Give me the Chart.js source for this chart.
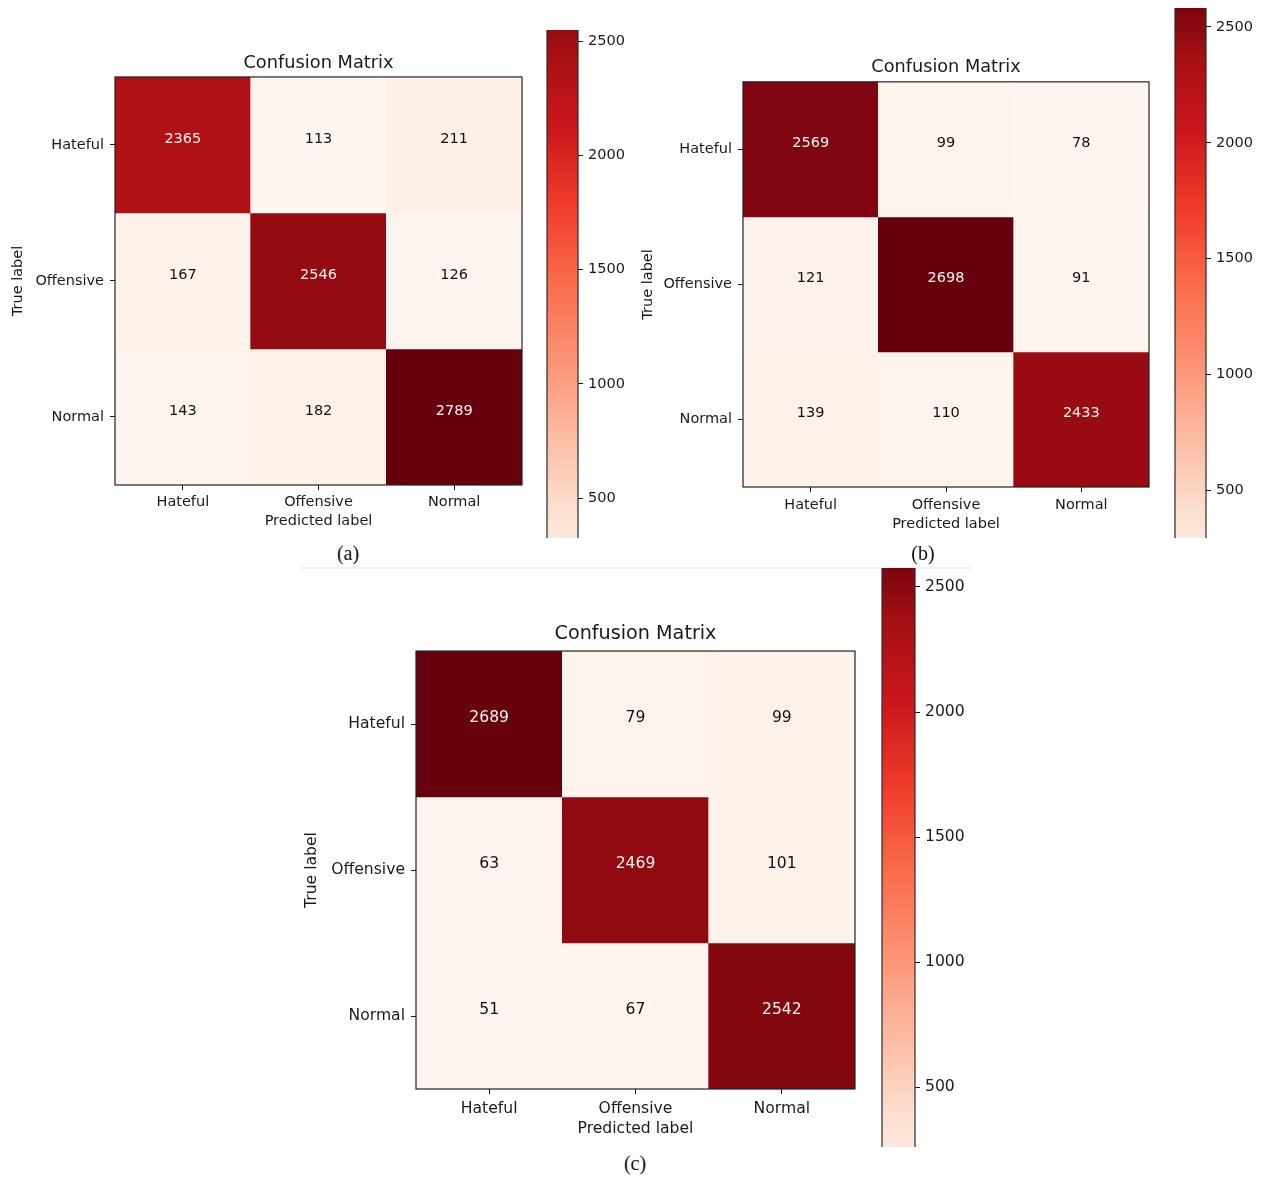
<!DOCTYPE html>
<html>
<head>
<meta charset="utf-8">
<script src="https://cdn.jsdelivr.net/npm/chart.js@4.4.1/dist/chart.umd.min.js"></script>
<style>
  html, body { margin: 0; padding: 0; background: #ffffff; }
  body { width: 1263px; height: 1178px; position: relative; overflow: hidden; }
  canvas { position: absolute; }
  .cap { position: absolute; font-family: "Liberation Serif", "Times New Roman", serif; font-size: 20px; color: #111; transform: translate(-50%, -50%); white-space: nowrap; }
  .rule { position: absolute; left: 301px; top: 567px; width: 670px; height: 2px; background: #f0f0f0; }
</style>
</head>
<body>
<canvas id="mA" width="530" height="500" style="left:0px;top:40px;width:530px;height:500px"></canvas>
<canvas id="cA" width="100" height="530" style="left:540px;top:20px;width:100px;height:530px"></canvas>
<canvas id="mB" width="528" height="500" style="left:630px;top:40px;width:528px;height:500px"></canvas>
<canvas id="cB" width="98" height="548" style="left:1165px;top:0px;width:98px;height:548px"></canvas>
<div class="rule"></div>
<canvas id="mC" width="565" height="545" style="left:300px;top:600px;width:565px;height:545px"></canvas>
<canvas id="cC" width="110" height="600" style="left:872px;top:560px;width:110px;height:600px"></canvas>
<div class="cap" style="left:348px;top:553px">(a)</div>
<div class="cap" style="left:923px;top:553px">(b)</div>
<div class="cap" style="left:635px;top:1163px">(c)</div>
<script>
// ---------------- DATA ----------------
const predictedLabels = ['Hateful', 'Offensive', 'Normal'];
const trueLabels = ['Hateful', 'Offensive', 'Normal'];
const matrixA = [[2365, 113, 211], [167, 2546, 126], [143, 182, 2789]];
const matrixB = [[2569, 99, 78], [121, 2698, 91], [139, 110, 2433]];
const matrixC = [[2689, 79, 99], [63, 2469, 101], [51, 67, 2542]];
const colorbarTicks = [500, 1000, 1500, 2000, 2500];
// visible (cropped) part of each colorbar, in data units
const colorbarViewA = [325, 2550];
const colorbarViewB = [293, 2582];
const colorbarViewC = [260, 2576];
const titleText = 'Confusion Matrix';
const xTitleText = 'Predicted label';
const yTitleText = 'True label';

// matplotlib "Reds" colormap anchors
const REDS = [
  [1.00, 0.96, 0.94], [0.99, 0.88, 0.82], [0.99, 0.73, 0.63],
  [0.99, 0.57, 0.45], [0.98, 0.42, 0.29], [0.94, 0.23, 0.17],
  [0.80, 0.09, 0.11], [0.65, 0.06, 0.08], [0.40, 0.00, 0.05]
];
function toRgb(c) {
  return 'rgb(' + c.map(v => Math.round(v * 255)).join(',') + ')';
}
function reds(t) {
  t = Math.max(0, Math.min(1, t));
  const p = t * (REDS.length - 1);
  const i = Math.min(REDS.length - 2, Math.floor(p));
  const f = p - i;
  const a = REDS[i], b = REDS[i + 1];
  return toRgb([0, 1, 2].map(k => a[k] + (b[k] - a[k]) * f));
}

const FONT = '"DejaVu Sans", "Liberation Sans", sans-serif';
const INK = '#1a1a1a';

const cellTextPlugin = {
  id: 'cellText',
  afterDatasetsDraw(chart, args, opts) {
    const m = opts.matrix;
    if (!m) return;
    const flat = m.flat();
    const vmin = Math.min(...flat), vmax = Math.max(...flat);
    const thresh = (vmin + vmax) / 2;
    const {ctx, scales} = chart;
    ctx.save();
    ctx.font = opts.fontSize + 'px ' + FONT;
    ctx.textAlign = 'center';
    ctx.textBaseline = 'middle';
    m.forEach((row, r) => {
      row.forEach((v, c) => {
        const x = scales.x.getPixelForValue(c);
        const y = scales.y.getPixelForValue(r + 0.5) + opts.dy;
        ctx.fillStyle = v > thresh ? '#fff5f0' : '#111111';
        ctx.fillText(String(v), x, y);
      });
    });
    // axes frame
    const a = chart.chartArea;
    ctx.strokeStyle = '#222';
    ctx.lineWidth = 1.2;
    ctx.strokeRect(a.left, a.top, a.right - a.left, a.bottom - a.top);
    ctx.restore();
  }
};

const sideBorderPlugin = {
  id: 'sideBorder',
  afterDatasetsDraw(chart) {
    const {ctx, chartArea: a} = chart;
    ctx.save();
    ctx.strokeStyle = '#2a2a2a';
    ctx.lineWidth = 1.2;
    ctx.beginPath();
    ctx.moveTo(a.left, a.top); ctx.lineTo(a.left, a.bottom);
    ctx.moveTo(a.right, a.top); ctx.lineTo(a.right, a.bottom);
    ctx.stroke();
    ctx.restore();
  }
};

function makeMatrix(id, m, g) {
  const flat = m.flat();
  const vmin = Math.min(...flat), vmax = Math.max(...flat);
  const datasets = m.map((row, r) => ({
    data: predictedLabels.map(() => [r, r + 1]),
    backgroundColor: row.map(v => reds((v - vmin) / (vmax - vmin))),
    borderWidth: 0,
    grouped: false,
    barPercentage: 1,
    categoryPercentage: 1
  }));
  new Chart(document.getElementById(id), {
    type: 'bar',
    data: { labels: predictedLabels, datasets },
    plugins: [cellTextPlugin],
    options: {
      responsive: false,
      animation: false,
      events: [],
      layout: { padding: { left: 0, right: g.padRight, top: 0, bottom: 0 } },
      plugins: {
        legend: { display: false },
        tooltip: { enabled: false },
        title: {
          display: true, text: titleText, fullSize: false, color: INK,
          font: { family: FONT, size: g.tfs, weight: 'normal', lineHeight: 1.2 },
          padding: { top: g.titlePadTop, bottom: g.titlePadBottom }
        },
        cellText: { matrix: m, fontSize: g.fs, dy: g.dy }
      },
      scales: {
        x: {
          type: 'category',
          offset: true,
          grid: { display: true, offset: false, drawOnChartArea: false, drawTicks: true, tickLength: 5, tickColor: INK, tickWidth: 1 },
          border: { display: false },
          ticks: { color: INK, font: { family: FONT, size: g.fs }, padding: g.xTickPad, maxRotation: 0, autoSkip: false },
          title: { display: true, text: xTitleText, color: INK, font: { family: FONT, size: g.fs, lineHeight: 1.2 }, padding: { top: 0, bottom: g.xTitlePad } },
          afterFit: s => { s.height = g.xAxisH; }
        },
        y: {
          type: 'linear',
          min: 0, max: 3, reverse: true,
          afterBuildTicks: s => { s.ticks = trueLabels.map((_, i) => ({ value: i + 0.5 })); },
          grid: { display: true, drawOnChartArea: false, drawTicks: true, tickLength: 5, tickColor: INK, tickWidth: 1 },
          border: { display: false },
          ticks: { color: INK, font: { family: FONT, size: g.fs }, padding: 6, callback: (v, i) => trueLabels[i] },
          title: { display: true, text: yTitleText, color: INK, font: { family: FONT, size: g.fs, lineHeight: 1.2 }, padding: { top: g.yTitlePad, bottom: 0 } },
          afterFit: s => { s.width = g.yAxisW; s.paddingTop = 0; s.paddingBottom = 0; }
        }
      }
    }
  });
}

function makeColorbar(id, m, view, g) {
  const flat = m.flat();
  const vmin = Math.min(...flat), vmax = Math.max(...flat);
  new Chart(document.getElementById(id), {
    type: 'bar',
    data: {
      labels: ['colorbar'],
      datasets: [{
        data: [[vmin, vmax]],
        borderWidth: 0,
        barPercentage: 1,
        categoryPercentage: 1,
        backgroundColor: ctx => {
          const chart = ctx.chart;
          if (!chart.chartArea || !chart.scales.y) return reds(0.5);
          const y0 = chart.scales.y.getPixelForValue(vmin);
          const y1 = chart.scales.y.getPixelForValue(vmax);
          const grad = chart.ctx.createLinearGradient(0, y0, 0, y1);
          REDS.forEach((c, i) => grad.addColorStop(i / (REDS.length - 1), toRgb(c)));
          return grad;
        }
      }]
    },
    plugins: [sideBorderPlugin],
    options: {
      responsive: false,
      animation: false,
      events: [],
      layout: { padding: { left: g.padLeft, right: 0, top: g.padTop, bottom: g.padBottom } },
      plugins: { legend: { display: false }, tooltip: { enabled: false }, title: { display: false } },
      scales: {
        x: { display: false, offset: true },
        y: {
          type: 'linear', position: 'right',
          min: view[0], max: view[1],
          afterBuildTicks: s => { s.ticks = colorbarTicks.map(v => ({ value: v })); },
          grid: { display: true, drawOnChartArea: false, drawTicks: true, tickLength: 5, tickColor: INK, tickWidth: 1 },
          border: { display: false },
          ticks: { color: INK, font: { family: FONT, size: g.fs }, padding: 5, callback: v => String(v) },
          afterFit: s => { s.width = g.axisW; s.paddingTop = 0; s.paddingBottom = 0; }
        }
      }
    }
  });
}

// Panel (a)
makeMatrix('mA', matrixA, { fs: 14.5, tfs: 17.8, padRight: 8, yAxisW: 115, xAxisH: 55,
  xTitlePad: 10.3, yTitlePad: 9.3, titlePadTop: 12.3, titlePadBottom: 3.3, xTickPad: 4, dy: -5.5 });
makeColorbar('cA', matrixA, colorbarViewA, { fs: 14.5, padLeft: 7, padTop: 10, padBottom: 12, axisW: 62 });

// Panel (b)
makeMatrix('mB', matrixB, { fs: 14.5, tfs: 17.7, padRight: 9, yAxisW: 113, xAxisH: 53,
  xTitlePad: 7.3, yTitlePad: 9.3, titlePadTop: 16.3, titlePadBottom: 4.3, xTickPad: 5, dy: -6 });
makeColorbar('cB', matrixB, colorbarViewB, { fs: 14.5, padLeft: 10, padTop: 8, padBottom: 10, axisW: 57 });

// Panel (c)
makeMatrix('mC', matrixC, { fs: 15.6, tfs: 19.2, padRight: 10, yAxisW: 116, xAxisH: 56,
  xTitlePad: 6.6, yTitlePad: 2.6, titlePadTop: 22.5, titlePadBottom: 5.5, xTickPad: 6, dy: -6 });
makeColorbar('cC', matrixC, colorbarViewC, { fs: 15.6, padLeft: 10, padTop: 8, padBottom: 13, axisW: 67 });
</script>
</body>
</html>
